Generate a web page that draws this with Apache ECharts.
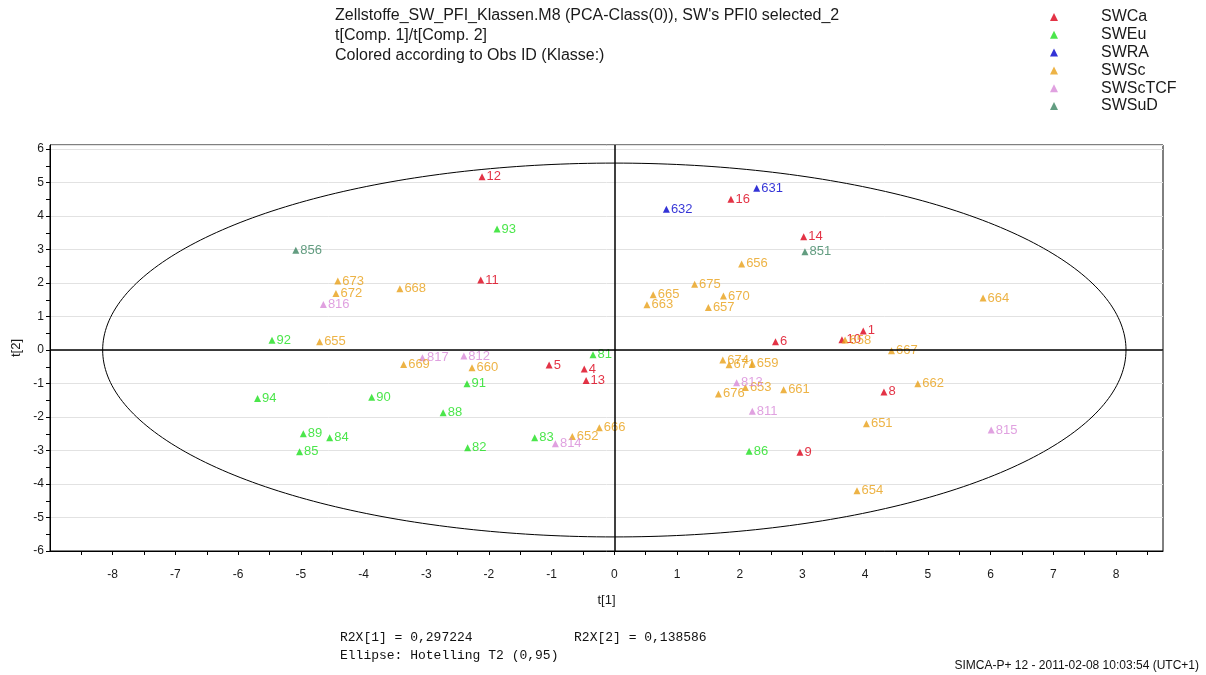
<!DOCTYPE html>
<html><head><meta charset="utf-8">
<script src="https://cdn.jsdelivr.net/npm/echarts@6/dist/echarts.min.js"></script>
<style>html,body{margin:0;padding:0;background:#fff}#c{width:1206px;height:675px}</style>
</head><body><div id="c"></div>
<script>
// ---- data: [t1, t2, obs id]
const SWCa = [[-2.11,5.17,'12'],[-2.13,2.09,'11'],[1.86,4.50,'16'],[3.02,3.38,'14'],[2.57,0.25,'6'],[3.97,0.57,'1'],[3.63,0.31,'10'],[-1.04,-0.45,'5'],[-0.48,-0.57,'4'],[-0.45,-0.91,'13'],[4.30,-1.25,'8'],[2.96,-3.05,'9']];
const SWEu = [[-1.87,3.61,'93'],[-5.46,0.29,'92'],[-5.69,-1.45,'94'],[-2.35,-1.01,'91'],[-3.87,-1.41,'90'],[-2.73,-1.87,'88'],[-4.96,-2.50,'89'],[-4.54,-2.62,'84'],[-5.02,-3.04,'85'],[-2.34,-2.92,'82'],[-1.27,-2.62,'83'],[-0.34,-0.14,'81'],[2.15,-3.02,'86']];
const SWRA = [[2.27,4.83,'631'],[0.83,4.20,'632']];
const SWSc = [[-4.41,2.06,'673'],[-4.44,1.69,'672'],[-3.42,1.83,'668'],[-4.70,0.25,'655'],[-3.36,-0.43,'669'],[-2.27,-0.53,'660'],[-0.24,-2.32,'666'],[-0.67,-2.58,'652'],[0.62,1.65,'665'],[0.52,1.35,'663'],[1.28,1.96,'675'],[1.74,1.61,'670'],[1.50,1.27,'657'],[2.03,2.57,'656'],[1.73,-0.30,'674'],[1.83,-0.44,'671'],[2.20,-0.41,'659'],[1.66,-1.31,'676'],[2.09,-1.12,'653'],[2.70,-1.19,'661'],[3.68,0.30,'658'],[4.42,-0.02,'667'],[4.84,-1.01,'662'],[4.02,-2.20,'651'],[3.87,-4.20,'654'],[5.88,1.55,'664']];
const SWScTCF = [[-4.64,1.36,'816'],[-3.06,-0.23,'817'],[-2.40,-0.18,'812'],[-0.94,-2.80,'814'],[1.95,-0.98,'813'],[2.20,-1.83,'811'],[6.01,-2.39,'815']];
const SWSuD = [[-5.08,2.98,'856'],[3.04,2.93,'851']];
const GROUP_NAMES = ['SWCa','SWEu','SWRA','SWSc','SWScTCF','SWSuD'];
const GROUP_DATA = [SWCa, SWEu, SWRA, SWSc, SWScTCF, SWSuD];
const GROUP_COLORS = ['#dc0018','#1ee01e','#0000cc','#e8a018','#d88ad8','#3c8462'];
// Hotelling T2 (0.95) ellipse semi-axes
const ELLIPSE_A = 8.16;
const ELLIPSE_B = 5.58;
const X_MIN = -9, X_MAX = 8.75, Y_MIN = -6, Y_MAX = 6.12;

const FONT = '"Liberation Sans", Arial, sans-serif';
const chart = echarts.init(document.getElementById('c'), null, {renderer:'canvas'});
const intLabel = v => (Math.abs(v - Math.round(v)) < 1e-6 ? String(Math.round(v)) : '');

const scatterSeries = GROUP_NAMES.map((n, i) => ({
  name: n, type: 'scatter', xAxisIndex: 0, yAxisIndex: 0,
  symbol: 'triangle', symbolSize: 7,
  itemStyle: {color: GROUP_COLORS[i]},
  label: {show: true, position: 'right', distance: 1, formatter: p => p.data.value[2],
    color: GROUP_COLORS[i], fontSize: 13, fontFamily: FONT},
  emphasis: {disabled: true},
  data: GROUP_DATA[i].map(d => ({value: d}))
}));

const ellipse = {
  type: 'custom', xAxisIndex: 0, yAxisIndex: 0, silent: true, z: 1,
  data: [[0, 0]],
  renderItem: (params, api) => {
    const pts = [];
    for (let k = 0; k <= 360; k++) {
      const a = k * Math.PI / 180;
      pts.push(api.coord([ELLIPSE_A * Math.cos(a), ELLIPSE_B * Math.sin(a)]));
    }
    return {type: 'polyline', shape: {points: pts}, style: {stroke: '#000', lineWidth: 1, fill: null}};
  },
  markLine: {silent: true, symbol: 'none', label: {show: false},
    lineStyle: {color: '#000', width: 1.5, type: 'solid'},
    data: [{xAxis: 0}, {yAxis: 0}]}
};

chart.setOption({
  backgroundColor: '#fff',
  animation: false,
  title: [
    {text: "Zellstoffe_SW_PFI_Klassen.M8 (PCA-Class(0)), SW's PFI0 selected_2\nt[Comp. 1]/t[Comp. 2]\nColored according to Obs ID (Klasse:)",
     left: 330, top: 1, textStyle: {fontSize: 16, fontWeight: 'normal', color: '#1a1a1a', fontFamily: FONT, lineHeight: 20}},
    {text: 'R2X[1] = 0,297224             R2X[2] = 0,138586\nEllipse: Hotelling T2 (0,95)', left: 335, top: 624,
     textStyle: {fontSize: 13, fontWeight: 'normal', color: '#111', fontFamily: '"Liberation Mono", "Courier New", monospace', lineHeight: 18}},
    {text: 'SIMCA-P+ 12 - 2011-02-08 10:03:54 (UTC+1)', right: 2, top: 655,
     textStyle: {fontSize: 12, fontWeight: 'normal', color: '#111', fontFamily: FONT}}
  ],
  legend: {
    orient: 'vertical', left: 1045, top: 4, itemWidth: 8, itemHeight: 8, itemGap: 1.8,
    icon: 'triangle', selectedMode: false,
    textStyle: {fontSize: 16, color: '#1a1a1a', fontFamily: FONT, padding: [0,0,0,38], lineHeight: 16},
    data: GROUP_NAMES
  },
  grid: {left: 50, right: 43, top: 145, bottom: 124, show: true, borderColor: '#000', borderWidth: 1, backgroundColor: 'transparent'},
  xAxis: [{
    type: 'value', min: X_MIN, max: X_MAX, interval: 0.5, position: 'bottom',
    name: 't[1]', nameLocation: 'middle', nameGap: 43, nameTextStyle: {fontSize: 13, color: '#1a1a1a', fontFamily: FONT},
    axisLine: {onZero: false, lineStyle: {color: '#000'}},
    axisTick: {show: true, length: 4, lineStyle: {color: '#000'}},
    axisLabel: {formatter: intLabel, fontSize: 12, color: '#1a1a1a', fontFamily: FONT, margin: 18, showMinLabel: false, showMaxLabel: false},
    splitLine: {show: false}
  }],
  yAxis: [{
    type: 'value', min: Y_MIN, max: Y_MAX, interval: 0.5, position: 'left',
    name: 't[2]', nameLocation: 'middle', nameGap: 26, nameRotate: 90, nameTextStyle: {fontSize: 13, color: '#1a1a1a', fontFamily: FONT},
    axisLine: {onZero: false, lineStyle: {color: '#000'}},
    axisTick: {show: true, length: 4, lineStyle: {color: '#000'}},
    axisLabel: {formatter: intLabel, fontSize: 12, color: '#1a1a1a', fontFamily: FONT, margin: 6, showMaxLabel: false},
    splitLine: {show: false}
  }, {
    type: 'value', min: Y_MIN, max: Y_MAX, interval: 1, position: 'left',
    axisLine: {show: false}, axisTick: {show: false}, axisLabel: {show: false},
    splitLine: {show: true, lineStyle: {color: '#e2e2e2', width: 1}}
  }],
  series: [ellipse, ...scatterSeries]
});
</script></body></html>
